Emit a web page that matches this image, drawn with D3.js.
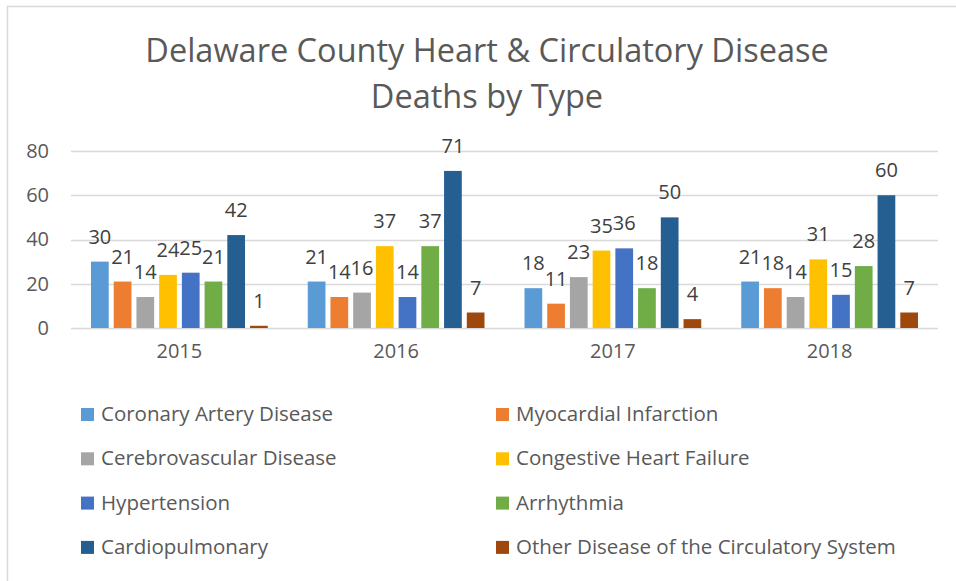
<!DOCTYPE html>
<html>
<head>
<meta charset="utf-8">
<script src="https://cdn.jsdelivr.net/npm/d3@7"></script>
<style>
  html, body { margin: 0; padding: 0; background: #ffffff; }
  svg { display: block; font-family: "Open Sans", sans-serif; }
</style>
</head>
<body>
<div id="chart"></div>
<script>
const years = ["2015", "2016", "2017", "2018"];
const seriesNames = [
  "Coronary Artery Disease",
  "Myocardial Infarction",
  "Cerebrovascular Disease",
  "Congestive Heart Failure",
  "Hypertension",
  "Arrhythmia",
  "Cardiopulmonary",
  "Other Disease of the Circulatory System"
];
const coronary = [30, 21, 18, 21];
const myocardial = [21, 14, 11, 18];
const cerebro = [14, 16, 23, 14];
const congestive = [24, 37, 35, 31];
const hypertension = [25, 14, 36, 15];
const arrhythmia = [21, 37, 18, 28];
const cardiopulmonary = [42, 71, 50, 60];
const other = [1, 7, 4, 7];
const yTicks = [0, 20, 40, 60, 80];

const seriesValues = [coronary, myocardial, cerebro, congestive, hypertension, arrhythmia, cardiopulmonary, other];
const colors = ["#5B9BD5", "#ED7D31", "#A5A5A5", "#FFC000", "#4472C4", "#70AD47", "#255E91", "#9E480E"];

const width = 956, height = 581;
const textColor = "#595959";
const plot = { left: 71, right: 938, top: 151, bottom: 328 };

const svg = d3.select("#chart")
  .append("svg")
  .attr("width", width)
  .attr("height", height);

// chart border (cropped on the right and bottom)
svg.append("path")
  .attr("d", `M7.5,${height} V6.5 H${width}`)
  .attr("fill", "none")
  .attr("stroke", "#d9d9d9")
  .attr("stroke-width", 1.5);

// title
const title = svg.append("text")
  .attr("text-anchor", "middle")
  .attr("fill", textColor)
  .attr("font-size", "32.5px");
title.append("tspan").attr("x", 487).attr("y", 62).text("Delaware County Heart & Circulatory Disease");
title.append("tspan").attr("x", 487).attr("y", 108).text("Deaths by Type");

const x0 = d3.scaleBand()
  .domain(years)
  .range([plot.left, plot.right]);

const x1 = d3.scaleBand()
  .domain(d3.range(seriesNames.length))
  .range([20, x0.bandwidth() - 20])
  .paddingInner(0.22);

const y = d3.scaleLinear()
  .domain([0, 80])
  .range([plot.bottom, plot.top]);

// gridlines
svg.append("g")
  .selectAll("line")
  .data(yTicks)
  .join("line")
  .attr("x1", plot.left)
  .attr("x2", plot.right)
  .attr("y1", d => Math.round(y(d)) + 0.5)
  .attr("y2", d => Math.round(y(d)) + 0.5)
  .attr("stroke", "#d9d9d9")
  .attr("stroke-width", 1.5);

// y axis labels
const yAxis = svg.append("g")
  .attr("transform", `translate(${plot.left},0)`)
  .call(d3.axisLeft(y).tickValues(yTicks).tickSize(0).tickPadding(22));
yAxis.select(".domain").remove();
yAxis.selectAll("text")
  .attr("fill", textColor)
  .attr("font-size", "20px")
  .attr("font-family", "Open Sans, sans-serif");

// x axis labels
const xAxis = svg.append("g")
  .attr("transform", `translate(0,${plot.bottom})`)
  .call(d3.axisBottom(x0).tickSize(0).tickPadding(16));
xAxis.select(".domain").remove();
xAxis.selectAll("text")
  .attr("fill", textColor)
  .attr("font-size", "20px")
  .attr("font-family", "Open Sans, sans-serif");

// bars
const groups = svg.append("g")
  .selectAll("g")
  .data(years)
  .join("g")
  .attr("transform", d => `translate(${x0(d)},0)`);

const cells = groups.selectAll("g")
  .data((d, yi) => seriesValues.map((vals, si) => ({ si, value: vals[yi] })))
  .join("g");

cells.append("rect")
  .attr("x", d => x1(d.si))
  .attr("width", x1.bandwidth())
  .attr("y", d => y(d.value))
  .attr("height", d => y(0) - y(d.value))
  .attr("fill", d => colors[d.si]);

cells.append("text")
  .attr("x", d => x1(d.si) + x1.bandwidth() / 2)
  .attr("y", d => y(d.value) - 18)
  .attr("text-anchor", "middle")
  .attr("fill", "#404040")
  .attr("font-size", "20px")
  .text(d => d.value);

// legend
const legend = svg.append("g")
  .selectAll("g")
  .data(seriesNames)
  .join("g")
  .attr("transform", (d, i) => `translate(${i % 2 === 0 ? 81 : 496},${421 + Math.floor(i / 2) * 44.3})`);

legend.append("rect")
  .attr("x", 0)
  .attr("y", -13)
  .attr("width", 13)
  .attr("height", 13)
  .attr("fill", (d, i) => colors[i]);

legend.append("text")
  .attr("x", 20)
  .attr("y", 0)
  .attr("fill", textColor)
  .attr("font-size", "20.5px")
  .text(d => d);
</script>
</body>
</html>
